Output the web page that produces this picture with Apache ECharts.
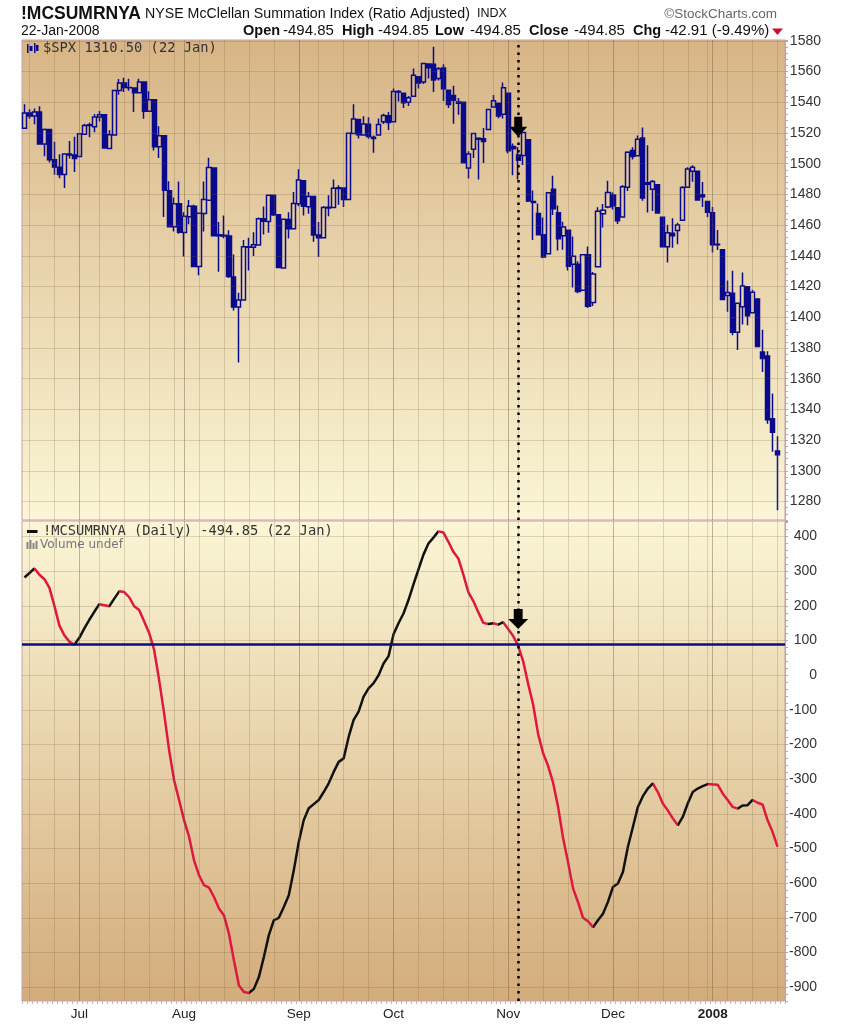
<!DOCTYPE html>
<html><head><meta charset="utf-8">
<script src="https://cdn.jsdelivr.net/npm/echarts@6/dist/echarts.min.js"></script>
<style>html,body{margin:0;padding:0;background:#fff}#c{width:844px;height:1024px}</style>
</head><body><div id="c"></div>
<script>
const dates = [
'2007-06-15','2007-06-18','2007-06-19','2007-06-20','2007-06-21','2007-06-22','2007-06-25','2007-06-26','2007-06-27','2007-06-28','2007-06-29',
'2007-07-02','2007-07-03','2007-07-05','2007-07-06','2007-07-09','2007-07-10','2007-07-11','2007-07-12','2007-07-13','2007-07-16','2007-07-17','2007-07-18','2007-07-19','2007-07-20','2007-07-23','2007-07-24','2007-07-25','2007-07-26','2007-07-27','2007-07-30','2007-07-31',
'2007-08-01','2007-08-02','2007-08-03','2007-08-06','2007-08-07','2007-08-08','2007-08-09','2007-08-10','2007-08-13','2007-08-14','2007-08-15','2007-08-16','2007-08-17','2007-08-20','2007-08-21','2007-08-22','2007-08-23','2007-08-24','2007-08-27','2007-08-28','2007-08-29','2007-08-30','2007-08-31',
'2007-09-04','2007-09-05','2007-09-06','2007-09-07','2007-09-10','2007-09-11','2007-09-12','2007-09-13','2007-09-14','2007-09-17','2007-09-18','2007-09-19','2007-09-20','2007-09-21','2007-09-24','2007-09-25','2007-09-26','2007-09-27','2007-09-28',
'2007-10-01','2007-10-02','2007-10-03','2007-10-04','2007-10-05','2007-10-08','2007-10-09','2007-10-10','2007-10-11','2007-10-12','2007-10-15','2007-10-16','2007-10-17','2007-10-18','2007-10-19','2007-10-22','2007-10-23','2007-10-24','2007-10-25','2007-10-26','2007-10-29','2007-10-30','2007-10-31',
'2007-11-01','2007-11-02','2007-11-05','2007-11-06','2007-11-07','2007-11-08','2007-11-09','2007-11-12','2007-11-13','2007-11-14','2007-11-15','2007-11-16','2007-11-19','2007-11-20','2007-11-21','2007-11-23','2007-11-26','2007-11-27','2007-11-28','2007-11-29','2007-11-30',
'2007-12-03','2007-12-04','2007-12-05','2007-12-06','2007-12-07','2007-12-10','2007-12-11','2007-12-12','2007-12-13','2007-12-14','2007-12-17','2007-12-18','2007-12-19','2007-12-20','2007-12-21','2007-12-24','2007-12-26','2007-12-27','2007-12-28','2007-12-31',
'2008-01-02','2008-01-03','2008-01-04','2008-01-07','2008-01-08','2008-01-09','2008-01-10','2008-01-11','2008-01-14','2008-01-15','2008-01-16','2008-01-17','2008-01-18','2008-01-22'];

const spxOpen = [
1522.97,1532.9,1531.0,1533.7,1512.8,1522.2,1502.6,1497.7,1492.9,1506.3,1505.7,
1504.7,1519.1,1524.9,1524.0,1530.4,1531.9,1509.9,1518.7,1547.7,1552.5,1549.5,1549.2,1546.1,1553.2,1534.1,1541.6,1511.0,1518.1,1482.4,1458.9,1473.9,
1455.2,1465.5,1472.2,1433.0,1467.6,1476.2,1497.2,1453.1,1453.4,1452.9,1426.2,1406.6,1411.3,1445.9,1445.6,1447.0,1464.1,1462.3,1479.4,1466.7,1432.0,1463.7,1457.6,
1473.9,1488.8,1472.0,1478.6,1453.5,1451.7,1471.1,1471.5,1483.9,1484.2,1476.6,1519.7,1528.7,1518.7,1525.7,1516.3,1518.6,1527.3,1531.2,
1527.3,1546.9,1545.8,1539.9,1543.8,1556.5,1553.2,1564.9,1564.7,1555.4,1562.3,1547.8,1544.4,1539.3,1540.0,1497.2,1509.3,1516.6,1516.2,1522.2,1536.9,1539.4,1532.2,
1545.8,1511.1,1505.6,1505.3,1515.5,1475.3,1467.6,1453.7,1441.4,1483.4,1468.0,1453.1,1456.7,1434.5,1434.5,1417.6,1440.7,1409.6,1432.9,1467.4,1471.8,
1479.6,1471.3,1465.2,1484.6,1508.6,1505.1,1516.7,1487.6,1483.3,1486.2,1465.1,1445.9,1454.7,1456.4,1463.2,1484.6,1495.1,1495.1,1479.8,1475.3,
1467.97,1447.6,1444.0,1414.1,1415.7,1390.3,1406.8,1419.9,1402.9,1411.9,1377.4,1374.8,1333.9,1312.9];

const spxHigh = [
1538.7,1535.4,1535.9,1537.3,1522.9,1522.2,1514.3,1506.1,1506.8,1514.8,1517.5,
1519.5,1526.0,1526.6,1532.4,1534.3,1531.9,1521.7,1547.9,1555.1,1555.9,1555.3,1549.2,1555.2,1553.2,1547.2,1541.6,1524.3,1518.1,1488.5,1477.9,1488.3,
1468.4,1476.4,1473.2,1467.7,1488.3,1503.9,1497.2,1462.0,1466.3,1456.7,1440.8,1415.9,1450.3,1451.8,1455.3,1464.9,1472.1,1479.4,1479.4,1466.7,1464.2,1468.4,1481.5,
1496.4,1488.8,1481.5,1478.6,1462.0,1472.5,1479.5,1489.6,1485.9,1484.2,1519.9,1538.7,1529.1,1530.9,1530.2,1518.3,1529.4,1532.5,1533.7,
1549.0,1548.0,1545.8,1544.0,1561.9,1556.5,1565.3,1565.4,1576.1,1563.0,1564.7,1547.8,1550.7,1542.8,1540.0,1508.1,1520.0,1517.2,1523.2,1535.5,1544.7,1539.4,1552.8,
1545.8,1513.1,1510.8,1520.8,1515.5,1482.5,1474.1,1464.9,1481.4,1492.1,1472.7,1462.2,1456.7,1452.6,1436.4,1440.9,1446.1,1429.5,1471.6,1473.8,1488.9,
1481.2,1471.3,1486.1,1508.0,1510.6,1518.3,1523.6,1511.9,1489.4,1486.7,1465.1,1460.2,1464.4,1461.5,1485.4,1497.6,1498.9,1495.1,1488.0,1475.8,
1471.8,1456.8,1444.0,1423.9,1430.3,1409.2,1429.1,1419.9,1417.9,1411.9,1391.9,1377.9,1350.3,1322.5];

const spxLow = [
1522.97,1529.3,1525.7,1512.4,1504.8,1500.7,1492.7,1490.5,1484.2,1503.4,1494.6,
1504.7,1519.1,1517.2,1520.5,1527.5,1509.8,1509.9,1518.7,1544.9,1546.7,1547.4,1533.7,1546.1,1529.2,1534.1,1508.6,1503.7,1465.3,1458.9,1455.9,1454.3,
1439.6,1460.6,1432.8,1427.4,1455.8,1476.2,1453.0,1429.7,1451.5,1425.5,1404.4,1370.6,1411.3,1430.5,1439.8,1447.0,1453.9,1455.0,1465.9,1432.0,1432.0,1451.3,1457.6,
1472.2,1466.3,1467.4,1449.1,1439.3,1451.7,1465.7,1471.5,1473.2,1471.8,1476.6,1519.7,1516.4,1518.7,1516.2,1507.1,1518.6,1525.8,1521.9,
1527.3,1540.4,1536.3,1537.6,1543.8,1549.0,1551.8,1555.5,1546.7,1554.1,1540.8,1536.3,1526.0,1531.8,1500.3,1490.4,1503.6,1489.6,1500.5,1522.2,1536.9,1529.5,1529.4,
1506.8,1492.5,1489.6,1499.1,1475.0,1450.3,1453.5,1438.5,1441.4,1466.5,1443.5,1443.9,1430.4,1419.3,1415.6,1417.6,1406.1,1407.4,1432.9,1458.4,1470.9,
1470.1,1460.7,1465.2,1482.2,1502.7,1504.7,1475.9,1468.2,1469.2,1467.8,1445.4,1435.7,1445.3,1447.5,1463.2,1484.6,1488.2,1475.9,1471.7,1465.1,
1442.1,1443.7,1411.2,1403.5,1388.3,1378.7,1395.3,1394.8,1402.9,1380.6,1364.3,1330.7,1312.5,1274.3];

const spxClose = [
1532.91,1531.05,1533.70,1512.84,1522.19,1502.56,1497.74,1492.89,1506.34,1505.71,1503.35,
1519.43,1524.87,1525.40,1530.44,1531.85,1510.12,1518.76,1547.70,1552.50,1549.52,1549.37,1546.17,1553.08,1534.10,1541.57,1511.04,1518.09,1482.66,1458.95,1473.91,1455.27,
1465.81,1472.20,1433.06,1467.67,1476.71,1497.49,1453.09,1453.64,1452.92,1426.54,1406.70,1411.27,1445.94,1445.55,1447.12,1464.07,1462.50,1479.37,1466.79,1432.36,1463.76,1457.64,1473.99,
1489.42,1472.29,1478.55,1453.55,1451.70,1471.49,1471.56,1483.95,1484.25,1476.65,1519.78,1529.03,1518.75,1525.75,1517.73,1517.21,1525.42,1531.38,1526.75,
1547.04,1546.63,1539.59,1542.84,1557.59,1552.58,1565.15,1562.47,1554.41,1561.80,1548.71,1538.53,1541.24,1540.08,1500.63,1506.33,1519.59,1515.88,1514.40,1535.28,1540.98,1531.02,1549.38,
1508.44,1509.65,1502.17,1520.27,1475.62,1474.77,1453.70,1439.18,1481.05,1470.58,1451.15,1458.74,1433.27,1439.70,1416.77,1440.70,1407.22,1428.23,1469.02,1469.72,1481.14,
1472.42,1462.79,1485.01,1507.34,1504.66,1515.96,1477.65,1486.59,1488.41,1467.95,1445.90,1454.98,1453.00,1460.12,1484.46,1496.45,1497.66,1476.27,1478.49,1468.36,
1447.16,1447.16,1411.63,1416.18,1390.19,1409.13,1420.33,1401.02,1416.25,1380.95,1373.20,1333.25,1325.19,1310.50];

const sumIdx = [
282,295,308,290,277,252,200,143,115,97,88,
108,135,160,183,205,202,199,221,242,240,225,199,188,155,122,73,-14,-110,-216,-303,-360,
-418,-466,-534,-577,-606,-613,-640,-673,-693,-746,-823,-895,-914,-917,-905,-871,-813,-750,-707,-700,-669,-635,-563,
-481,-418,-384,-372,-360,-337,-312,-279,-250,-240,-178,-129,-105,-62,-38,-23,0,34,55,
118,150,178,217,262,305,348,380,397,415,412,385,356,337,290,240,214,182,151,148,150,146,153,
133,113,85,40,-25,-85,-170,-225,-262,-310,-380,-470,-540,-615,-655,-700,-710,-727,-707,-688,-654,
-611,-601,-568,-495,-438,-380,-349,-327,-312,-337,-370,-390,-413,-433,-409,-370,-337,-327,-320,-314,
-315,-316,-341,-360,-380,-385,-376,-375,-360,-368,-373,-418,-452,-494.85];

const spxTicks = [1280,1300,1320,1340,1360,1380,1400,1420,1440,1460,1480,1500,1520,1540,1560,1580];
const sumTicks = [400,300,200,100,0,-100,-200,-300,-400,-500,-600,-700,-800,-900];
const monthNames = ['Jan','Feb','Mar','Apr','May','Jun','Jul','Aug','Sep','Oct','Nov','Dec'];
const signalDate = '2007-11-05';
const signalLevel = 90;
const arrowSpx = 1524;
const arrowSum = 162;

// ---- derived layout helpers ----
const cats = dates.concat(['2008-01-23']);
const weekStarts = [], monthStarts = [];
for (let i = 1; i < dates.length; i++) {
  const d0 = new Date(dates[i-1] + 'T00:00:00Z'), d1 = new Date(dates[i] + 'T00:00:00Z');
  if (dates[i].slice(0,7) !== dates[i-1].slice(0,7)) monthStarts.push(i);
  if (d1.getUTCDay() <= d0.getUTCDay() || (d1 - d0) > 4 * 864e5) weekStarts.push(i);
}
const monthSet = new Set(monthStarts);
const gridV = c => ({ color: c, width: 1, type: 'solid' });
const vLines = [];
weekStarts.forEach(i => { if (!monthSet.has(i)) vLines.push({ xAxis: dates[i], lineStyle: gridV('rgba(120,90,60,0.22)') }); });
monthStarts.forEach(i => vLines.push({ xAxis: dates[i], lineStyle: gridV('rgba(110,80,55,0.40)') }));
const hLinesTop = spxTicks.map(v => ({ yAxis: v, lineStyle: gridV('rgba(120,90,60,0.22)') }));
const hLinesBot = sumTicks.map(v => ({ yAxis: v, lineStyle: gridV('rgba(120,90,60,0.22)') }));

// direction colouring pieces for summation line
const RED = '#e0173f', BLK = '#111111';
const pieces = [];
let runStart = 0, runCol = sumIdx[1] >= sumIdx[0] ? BLK : RED;
for (let i = 1; i < sumIdx.length - 1; i++) {
  const col = sumIdx[i+1] >= sumIdx[i] ? BLK : RED;
  if (col !== runCol) { pieces.push({ gte: runStart, lt: i, color: runCol }); runStart = i; runCol = col; }
}
pieces.push({ gte: runStart, lte: sumIdx.length, color: runCol });

const axisPink = '#c6a3a3';
const gridBase = { show: true, borderColor: axisPink, borderWidth: 1, outerBoundsMode: 'none', containLabel: false };
const lbl = { color: '#333', fontSize: 14, fontFamily: '"Liberation Sans", Arial, sans-serif', align: 'right' };
const arrowPath = 'path://M5,0 L13,0 L13,10 L18,10 L9,20 L0,10 L5,10 Z';
const dotted = { color: '#000', width: 2.5, type: [2.5, 5] };
const FONT = '"Liberation Sans", Arial, sans-serif';
const txt = (x, y, text, font, extra) => ({ type: 'text', x: x, y: y,
  style: Object.assign({ text: text, font: font, fill: '#111', verticalAlign: 'middle', textVerticalAlign: 'middle' }, extra || {}) });

const chart = echarts.init(document.getElementById('c'), null, { renderer: 'canvas' });
chart.setOption({
  animation: false,
  backgroundColor: '#ffffff',
  grid: [
    Object.assign({ left: 22, top: 40, width: 763, height: 480,
      backgroundColor: { type: 'linear', x: 0, y: 0, x2: 0, y2: 1, colorStops: [{ offset: 0, color: '#d7b485' }, { offset: 1, color: '#fbf6d6' }] } }, gridBase),
    Object.assign({ left: 22, top: 521, width: 763, height: 480,
      backgroundColor: { type: 'linear', x: 0, y: 0, x2: 0, y2: 1, colorStops: [{ offset: 0, color: '#fbf6d6' }, { offset: 1, color: '#d3ac7b' }] } }, gridBase)
  ],
  xAxis: [
    { type: 'category', gridIndex: 0, data: cats, boundaryGap: true, position: 'bottom',
      axisLine: { show: false, onZero: false }, axisTick: { show: false }, axisLabel: { show: false }, splitLine: { show: false } },
    { type: 'category', gridIndex: 1, data: cats, boundaryGap: true, position: 'bottom',
      axisLine: { show: false, onZero: false },
      axisTick: { show: true, interval: 0, length: 3, lineStyle: { color: '#c9b3b3', width: 1 } },
      axisLabel: { show: true, interval: idx => monthSet.has(idx), margin: 6,
        color: '#222', fontSize: 13.5, fontFamily: FONT,
        formatter: v => { const m = +v.slice(5,7); return m === 1 ? '{y|' + v.slice(0,4) + '}' : monthNames[m-1]; },
        rich: { y: { fontWeight: 'bold', fontSize: 13.5, color: '#222', fontFamily: FONT } } },
      splitLine: { show: false } }
  ],
  yAxis: [
    { type: 'value', gridIndex: 0, position: 'right', min: 1268, max: 1580.5, interval: 4,
      axisLine: { show: true, onZero: false, lineStyle: { color: axisPink } },
      axisTick: { show: true, length: 3, lineStyle: { color: axisPink } },
      splitLine: { show: false },
      axisLabel: Object.assign({ margin: 36, formatter: v => spxTicks.includes(Math.round(v * 100) / 100) ? String(v) : '' }, lbl) },
    { type: 'value', gridIndex: 1, position: 'right', min: -940, max: 445, interval: 20,
      axisLine: { show: true, onZero: false, lineStyle: { color: axisPink } },
      axisTick: { show: true, length: 3, lineStyle: { color: axisPink } },
      splitLine: { show: false },
      axisLabel: Object.assign({ margin: 32, formatter: v => sumTicks.includes(Math.round(v)) ? String(Math.round(v)) : '' }, lbl) }
  ],
  visualMap: { type: 'piecewise', show: false, seriesIndex: 3, dimension: 0, pieces: pieces, outOfRange: { color: BLK } },
  series: [
    { type: 'line', xAxisIndex: 0, yAxisIndex: 0, data: [], z: 1, silent: true,
      markLine: { silent: true, symbol: ['none','none'], label: { show: false }, data: vLines.concat(hLinesTop) } },
    { type: 'line', xAxisIndex: 1, yAxisIndex: 1, data: [], z: 1, silent: true,
      markLine: { silent: true, symbol: ['none','none'], label: { show: false },
        data: vLines.concat(hLinesBot).concat([{ yAxis: signalLevel, lineStyle: { color: '#0b0b86', width: 2.5, type: 'solid' } }]) } },
    { type: 'candlestick', xAxisIndex: 0, yAxisIndex: 0, z: 3, barWidth: 4.6,
      data: dates.map((d, i) => [spxOpen[i], spxClose[i], spxLow[i], spxHigh[i]]),
      itemStyle: { color: 'rgba(0,0,0,0)', color0: '#0a0a8c', borderColor: '#0a0a8c', borderColor0: '#0a0a8c', borderWidth: 1.5 } },
    { type: 'line', xAxisIndex: 1, yAxisIndex: 1, z: 4, data: sumIdx, symbol: 'none', smooth: false,
      lineStyle: { width: 2.5 } },
    { type: 'line', xAxisIndex: 0, yAxisIndex: 0, data: [], z: 6, silent: true,
      markLine: { silent: true, symbol: ['none','none'], label: { show: false }, data: [{ xAxis: signalDate, lineStyle: dotted }] },
      markPoint: { silent: true, symbol: arrowPath, symbolSize: [18, 20], itemStyle: { color: '#000' }, label: { show: false },
        data: [{ coord: [signalDate, arrowSpx] }] } },
    { type: 'line', xAxisIndex: 1, yAxisIndex: 1, data: [], z: 6, silent: true,
      markLine: { silent: true, symbol: ['none','none'], label: { show: false }, data: [{ xAxis: signalDate, lineStyle: dotted }] },
      markPoint: { silent: true, symbol: arrowPath, symbolSize: [20, 20], itemStyle: { color: '#000' }, label: { show: false },
        data: [{ coord: [signalDate, arrowSum] }] } }
  ],
  graphic: [
    txt(21, 14, '!MCSUMRNYA', 'bold 17.5px ' + FONT),
    txt(145, 14, 'NYSE McClellan Summation Index (Ratio Adjusted)', '14.2px ' + FONT),
    txt(477, 14, 'INDX', '12.5px ' + FONT),
    txt(777, 14, '\u00a9StockCharts.com', '13.5px ' + FONT, { fill: '#666', align: 'right', textAlign: 'right' }),
    txt(21, 31, '22-Jan-2008', '14px ' + FONT),
    txt(243, 31, 'Open', 'bold 14.5px ' + FONT),
    txt(283, 31, '-494.85', '15px ' + FONT),
    txt(342, 31, 'High', 'bold 14.5px ' + FONT),
    txt(378, 31, '-494.85', '15px ' + FONT),
    txt(435, 31, 'Low', 'bold 14.5px ' + FONT),
    txt(470, 31, '-494.85', '15px ' + FONT),
    txt(529, 31, 'Close', 'bold 14.5px ' + FONT),
    txt(574, 31, '-494.85', '15px ' + FONT),
    txt(633, 31, 'Chg', 'bold 14.5px ' + FONT),
    txt(665, 31, '-42.91 (-9.49%)', '15px ' + FONT),
    { type: 'polygon', shape: { points: [[772, 28.5], [783, 28.5], [777.5, 35]] }, style: { fill: '#c8102e' } },
    // legend top
    { type: 'rect', shape: { x: 27, y: 44, width: 1.5, height: 9 }, style: { fill: '#0a0a8c' } },
    { type: 'rect', shape: { x: 29.5, y: 46, width: 3, height: 5 }, style: { fill: '#0a0a8c' } },
    { type: 'rect', shape: { x: 34, y: 43, width: 1.5, height: 10 }, style: { fill: '#0a0a8c' } },
    { type: 'rect', shape: { x: 36, y: 45, width: 2.5, height: 6 }, style: { fill: '#0a0a8c' } },
    txt(43, 48, '$SPX 1310.50 (22 Jan)', '13.75px "DejaVu Sans Mono", monospace', { fill: '#333' }),
    // legend bottom
    { type: 'rect', shape: { x: 27, y: 530, width: 10.5, height: 3 }, style: { fill: '#111' } },
    txt(43, 531, '!MCSUMRNYA (Daily) -494.85 (22 Jan)', '13.75px "DejaVu Sans Mono", monospace', { fill: '#333' }),
    { type: 'rect', shape: { x: 26.5, y: 542, width: 2, height: 7 }, style: { fill: '#888' } },
    { type: 'rect', shape: { x: 29.5, y: 540, width: 2, height: 9 }, style: { fill: '#888' } },
    { type: 'rect', shape: { x: 32.5, y: 543, width: 2, height: 6 }, style: { fill: '#888' } },
    { type: 'rect', shape: { x: 35.5, y: 541, width: 2, height: 8 }, style: { fill: '#888' } },
    txt(40, 545, 'Volume undef', '12px "DejaVu Sans", sans-serif', { fill: '#777' })
  ]
});
</script>
</body></html>
